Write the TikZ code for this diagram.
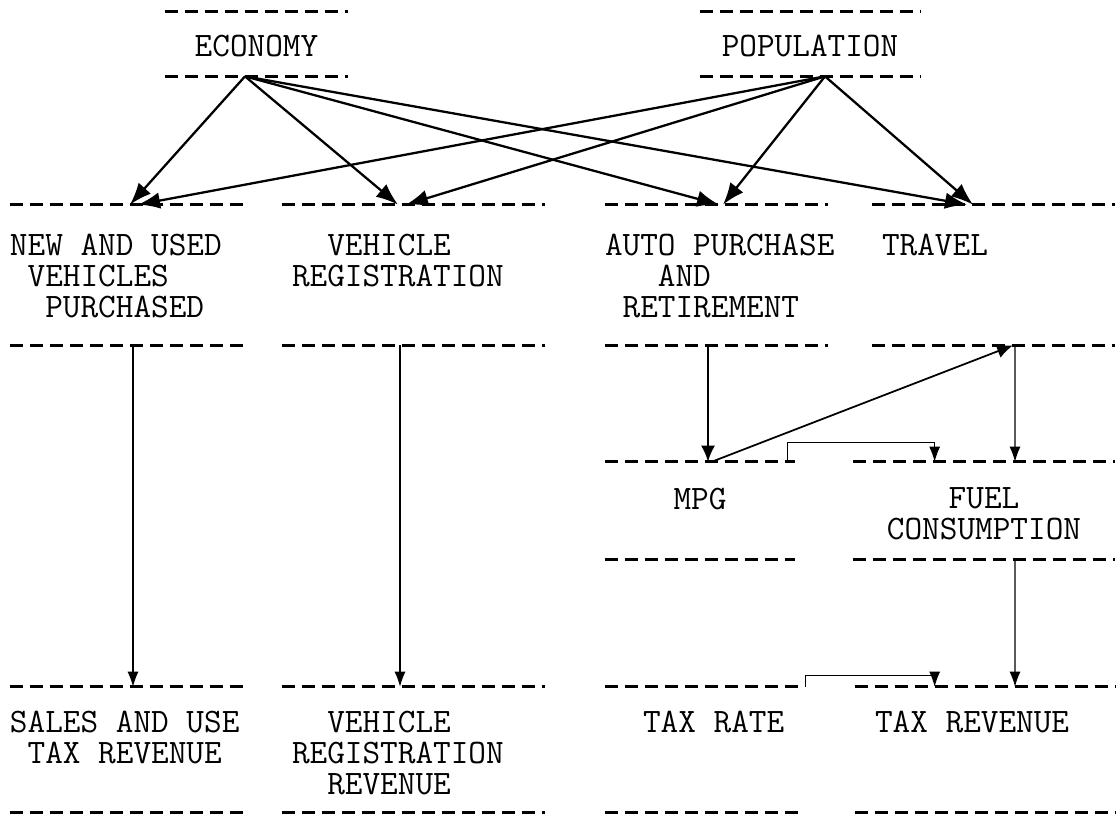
\documentclass[tikz,border=0pt]{standalone}
\usepackage{fontspec}
\usepackage{tikz}
\usetikzlibrary{positioning}
\usetikzlibrary{arrows.meta}

\tikzset{
  box/.style={inner sep=0pt,minimum height=#1},
  bar/.style={line width=1.5pt,dash pattern=on 0.26cm off 0.14cm},
  lbl/.style={inner sep=0pt,font=\ttfamily\fontsize{19.5}{17.6}\selectfont},
  infl/.style={line width=1.3pt,-{Latex[length=0.44cm,width=0.33cm]}},
  flow/.style={line width=0.6pt,-{Latex[length=0.3cm,width=0.22cm]}},
  link/.style={line width=1pt,-{Latex[length=0.32cm,width=0.28cm]}}
}

\begin{document}
\begin{tikzpicture}
        \useasboundingbox (0,0) rectangle (22.38,-16.34);

        \node[box=1.28cm,minimum width=3.66cm] (econ) at (5.13,-0.88) {};
        \node[box=1.28cm,minimum width=4.4cm] (pop) at (16.2,-0.88) {};
        \node[box=2.8cm,minimum width=4.7cm] (purch) at (2.55,-5.5) {};
        \node[box=2.8cm,minimum width=5.26cm] (reg) at (8.27,-5.5) {};
        \node[box=2.8cm,minimum width=4.46cm] (auto) at (14.33,-5.5) {};
        \node[box=2.8cm,minimum width=4.86cm] (travel) at (19.87,-5.5) {};
        \node[box=1.94cm,minimum width=3.8cm] (mpg) at (14.0,-10.21) {};
        \node[box=1.94cm,minimum width=5.24cm] (fuel) at (19.68,-10.21) {};
        \node[box=2.5cm,minimum width=4.7cm] (sales) at (2.55,-14.99) {};
        \node[box=2.5cm,minimum width=5.26cm] (vrrev) at (8.27,-14.99) {};
        \node[box=2.5cm,minimum width=3.9cm] (taxrate) at (14.05,-14.99) {};
        \node[box=2.5cm,minimum width=5.2cm] (taxrev) at (19.7,-14.99) {};

        \foreach \n in {econ,pop,purch,reg,auto,travel,mpg,fuel,sales,vrrev,taxrate,taxrev}
          \draw[bar] (\n.north west) -- (\n.north east) (\n.south west) -- (\n.south east);

        \node[lbl,below=0.46cm of econ.north] (econ-t) {ECONOMY};
        \node[lbl,below=0.46cm of pop.north] (pop-t) {POPULATION};
        \node[lbl,align=left,below right=0.58cm and 0cm of purch.north west] (purch-t)
          {NEW AND USED\\\phantom{X}VEHICLES\\\phantom{XX}PURCHASED};
        \node[lbl,align=left,below right=0.58cm and 0.2cm of reg.north west] (reg-t)
          {\phantom{XX}VEHICLE\\REGISTRATION};
        \node[lbl,align=left,below right=0.58cm and 0cm of auto.north west] (auto-t)
          {AUTO PURCHASE\\\phantom{XXX}AND\\\phantom{X}RETIREMENT};
        \node[lbl,below right=0.58cm and 0.2cm of travel.north west] (travel-t) {TRAVEL};
        \node[lbl,below=0.52cm of mpg.north] (mpg-t) {MPG};
        \node[lbl,align=center,below=0.52cm of fuel.north] (fuel-t) {FUEL\\CONSUMPTION};
        \node[lbl,align=left,below right=0.48cm and 0cm of sales.north west] (sales-t)
          {SALES AND USE\\\phantom{X}TAX REVENUE};
        \node[lbl,align=left,below right=0.48cm and 0.2cm of vrrev.north west] (vrrev-t)
          {\phantom{XX}VEHICLE\\REGISTRATION\\\phantom{XX}REVENUE};
        \node[lbl,below right=0.48cm and 0.76cm of taxrate.north west] (taxrate-t) {TAX RATE};
        \node[lbl,below right=0.48cm and 0.4cm of taxrev.north west] (taxrev-t) {TAX REVENUE};

        \draw[infl] ([xshift=-0.23cm]econ.south) -- ([xshift=0.05cm]purch.north);
        \draw[infl] ([xshift=-0.23cm]econ.south) -- ([xshift=-0.31cm]reg.north);
        \draw[infl] ([xshift=-0.23cm]econ.south) -- ([xshift=0.05cm]auto.north);
        \draw[infl] ([xshift=-0.23cm]econ.south) -- ([xshift=-0.53cm]travel.north);
        \draw[infl] ([xshift=0.3cm]pop.south) -- ([xshift=0.21cm]purch.north);
        \draw[infl] ([xshift=0.3cm]pop.south) -- ([xshift=-0.15cm]reg.north);
        \draw[infl] ([xshift=0.3cm]pop.south) -- ([xshift=0.13cm]auto.north);
        \draw[infl] ([xshift=0.3cm]pop.south) -- ([xshift=-0.41cm]travel.north);

        \draw[flow] ([xshift=0.11cm]purch.south) -- ([xshift=0.11cm]sales.north);
        \draw[flow] ([xshift=-0.27cm]reg.south) -- ([xshift=-0.27cm]vrrev.north);
        \draw[link] ([xshift=-0.17cm]auto.south) -- ([xshift=0.16cm]mpg.north);
        \draw[link] ([xshift=0.24cm]mpg.north) -- ([xshift=0.39cm]travel.south);
        \draw[flow] ([xshift=0.43cm]travel.south) -- ([xshift=0.62cm]fuel.north);
        \draw[flow] ([xshift=0.62cm]fuel.south) -- ([xshift=0.6cm]taxrev.north);
        \draw[flow] ([xshift=-0.16cm]mpg.north east) -- ++(0,0.38) -| ([xshift=1.64cm]fuel.north west);
        \draw[flow] ([xshift=0.1cm]taxrate.north east) -- ++(0,0.22) -| ([xshift=1.6cm]taxrev.north west);
      \end{tikzpicture}
\end{document}
